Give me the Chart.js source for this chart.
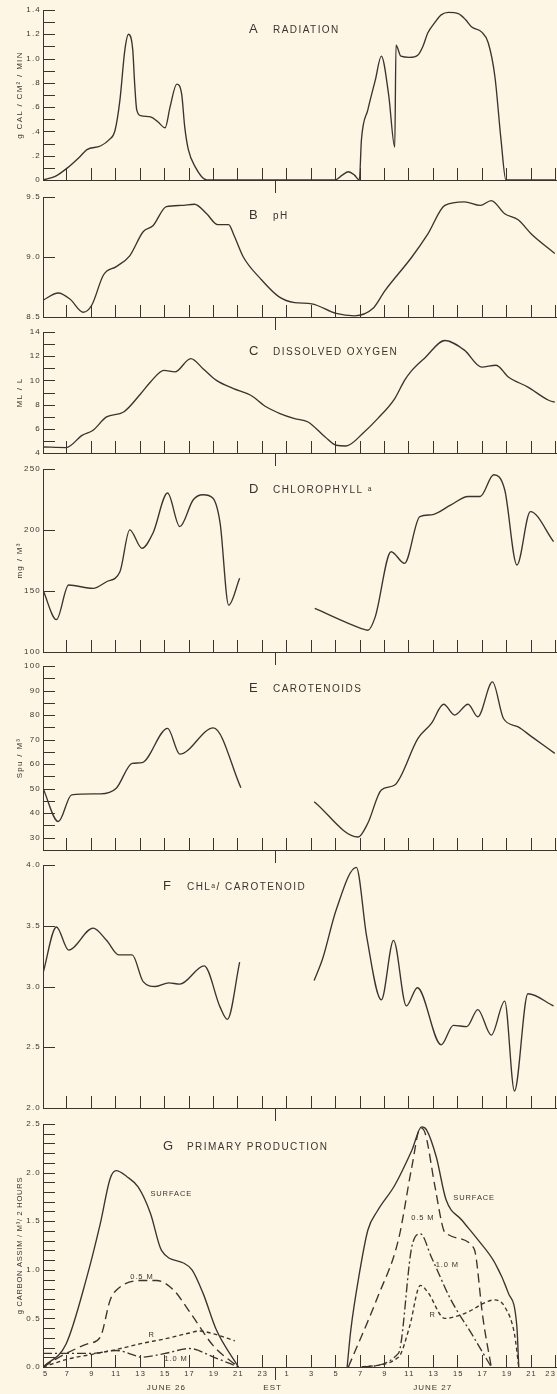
<!DOCTYPE html>
<html>
<head>
<meta charset="utf-8">
<script src="https://cdn.jsdelivr.net/npm/chart.js@4.4.1/dist/chart.umd.min.js"></script>
<style>
  html, body { margin: 0; padding: 0; background: #fdf6e4; }
  #page { position: relative; width: 557px; height: 1394px; overflow: hidden; background: #fdf6e4; }
  #page canvas { position: absolute; left: 0; }
</style>
</head>
<body>
<div id="page"></div>
<script>
// Clock runs continuously: 5..23 = June 26, 24 = midnight, 25..47 = June 27 (EST)
const clockTicks  = [5, 7, 9, 11, 13, 15, 17, 19, 21, 23, 25, 27, 29, 31, 33, 35, 37, 39, 41, 43, 45, 47];
const clockLabels = ['5', '7', '9', '11', '13', '15', '17', '19', '21', '23', '1', '3', '5', '7', '9', '11', '13', '15', '17', '19', '21', '23'];

// A  Radiation (g cal / cm2 / min)
const radHours  = [5, 6, 7, 8, 8.6, 9.7, 10.4, 10.9, 11.3, 11.7, 12.0, 12.35, 12.5, 12.67, 13.0, 13.8, 14.4, 15.0, 15.4, 15.95, 16.35, 16.6, 16.9, 17.45, 18.4, 23, 28.9, 29.5, 30.0, 30.5, 30.9, 31.07, 31.6, 32.2, 32.7, 33.3, 33.8, 33.9, 34.3, 35.0, 35.7, 36.1, 36.5, 37.1, 37.6, 38.2, 39.0, 39.6, 40.1, 40.9, 41.45, 42.0, 42.5, 42.9, 47];
const radValues = [0, 0.03, 0.10, 0.19, 0.25, 0.28, 0.33, 0.41, 0.66, 1.07, 1.20, 1.07, 0.80, 0.58, 0.53, 0.52, 0.48, 0.43, 0.60, 0.79, 0.71, 0.44, 0.25, 0.11, 0, 0, 0, 0.04, 0.068, 0.04, 0, 0.33, 0.58, 0.82, 1.02, 0.70, 0.27, 1.11, 1.02, 1.01, 1.03, 1.10, 1.21, 1.30, 1.36, 1.38, 1.37, 1.32, 1.26, 1.22, 1.13, 0.85, 0.33, 0, 0];
const radMajor  = [0, 0.2, 0.4, 0.6, 0.8, 1.0, 1.2, 1.4];
const radText   = ['0', '.2', '.4', '.6', '.8', '1.0', '1.2', '1.4'];

// B  pH
const phHours  = [5, 6.25, 7.2, 8.3, 9.0, 9.95, 11.0, 12.1, 13.2, 14.0, 15.1, 16.3, 17.4, 18.4, 19.3, 20.2, 20.6, 21.4, 22.8, 24.3, 25.6, 27.0, 29.0, 30.5, 32.0, 33.0, 35.2, 36.5, 37.9, 39.5, 40.8, 41.7, 42.8, 43.9, 45.0, 46.9];
const phValues = [8.64, 8.70, 8.65, 8.54, 8.60, 8.85, 8.92, 9.01, 9.21, 9.26, 9.42, 9.43, 9.44, 9.36, 9.27, 9.27, 9.19, 9.00, 8.82, 8.67, 8.62, 8.61, 8.53, 8.51, 8.57, 8.72, 9.00, 9.19, 9.43, 9.46, 9.43, 9.47, 9.36, 9.31, 9.19, 9.03];
const phMajor  = [8.5, 9.0, 9.5];
const phText   = ['8.5', '9.0', '9.5'];

// C  Dissolved oxygen (ml / l)
const doHours  = [5, 6.9, 8.2, 9.1, 10.2, 11.6, 13.0, 13.8, 14.9, 15.8, 17.1, 18.1, 19.2, 20.6, 22.0, 23.3, 24.4, 25.6, 26.7, 28.1, 29.0, 29.8, 31.3, 32.4, 33.8, 34.6, 35.2, 36.3, 37.9, 39.5, 40.9, 42.1, 43.1, 44.7, 46.4, 46.9];
const doValues = [4.5, 4.45, 5.46, 5.88, 6.98, 7.39, 8.9, 9.87, 10.83, 10.7, 11.8, 10.97, 10.0, 9.32, 8.77, 7.8, 7.26, 6.84, 6.56, 5.32, 4.64, 4.58, 5.74, 6.84, 8.5, 10.0, 10.83, 11.9, 13.3, 12.5, 11.1, 11.25, 10.28, 9.45, 8.36, 8.2];
const doMajor  = [4, 6, 8, 10, 12, 14];
const doText   = ['4', '6', '8', '10', '12', '14'];

// D  Chlorophyll a (mg / m3)
const chlHours26  = [5, 6.1, 7.1, 9.1, 10.2, 11.3, 12.1, 13.1, 14.0, 15.2, 16.2, 17.3, 18.1, 18.9, 19.5, 20.2, 21.1];
const chlValues26 = [150.7, 126.6, 154.9, 152.1, 157.6, 165.8, 200.1, 185, 197.4, 230.3, 202.8, 224.8, 228.9, 226.2, 205.6, 138.4, 160.4];
const chlHours27  = [27.25, 31.07, 31.6, 32.2, 33.5, 34.6, 35.85, 36.8, 38.4, 39.8, 40.8, 41.9, 42.8, 43.8, 44.9, 46.8];
const chlValues27 = [135.7, 119.2, 117.8, 128.8, 182.2, 172.7, 211, 212.4, 220.6, 227.5, 227.5, 245.3, 233, 171.3, 215.1, 190.5];
const chlMajor = [100, 150, 200, 250];
const chlText  = ['100', '150', '200', '250'];

// E  Carotenoids (Spu / m3)
const carHours26  = [5, 6.25, 7.35, 9.7, 11.0, 12.3, 13.1, 15.2, 16.2, 18.95, 21.2];
const carValues26 = [50.2, 36.6, 47.5, 47.9, 50.2, 60.3, 60.6, 74.6, 64.1, 74.8, 50.4];
const carHours27  = [27.2, 30.8, 31.6, 32.7, 33.8, 35.7, 36.8, 37.8, 38.7, 39.8, 40.6, 41.8, 42.7, 43.9, 45.0, 46.9];
const carValues27 = [44.7, 30.3, 36.0, 49.5, 51.5, 70.5, 76.6, 84.4, 80.0, 84.4, 79.3, 93.5, 78.6, 75.2, 71.2, 64.4];
const carMajor = [30, 40, 50, 60, 70, 80, 90, 100];
const carText  = ['30', '40', '50', '60', '70', '80', '90', '100'];

// F  Chlorophyll a / carotenoid ratio
const ratHours26  = [5, 6.1, 7.1, 9.1, 10.2, 11.2, 12.3, 13.2, 14.2, 15.3, 16.2, 18.2, 19.5, 20.1, 21.1];
const ratValues26 = [3.11, 3.49, 3.30, 3.48, 3.38, 3.26, 3.26, 3.04, 3.00, 3.03, 3.02, 3.17, 2.83, 2.73, 3.20];
const ratHours27  = [27.2, 27.9, 29.0, 30.65, 31.5, 32.7, 33.7, 34.75, 35.65, 37.6, 38.6, 39.7, 40.6, 41.7, 42.8, 43.6, 44.7, 46.8];
const ratValues27 = [3.05, 3.23, 3.63, 3.98, 3.41, 2.89, 3.38, 2.84, 2.99, 2.52, 2.68, 2.67, 2.81, 2.60, 2.88, 2.14, 2.94, 2.84];
const ratMajor = [2.0, 2.5, 3.0, 3.5, 4.0];
const ratText  = ['2.0', '2.5', '3.0', '3.5', '4.0'];

// G  Primary production (g carbon assimilated / m3 / 2 hours)
const surfHours26 = [5, 6.9, 8.6, 9.7, 10.5, 11.0, 11.85, 12.8, 13.8, 14.7, 16.5, 17.2, 18.1, 19.2, 21];
const surfVals26  = [0, 0.24, 0.93, 1.48, 1.94, 2.02, 1.96, 1.85, 1.58, 1.20, 1.07, 1.00, 0.76, 0.38, 0];
const halfHours26 = [5, 6.9, 8.7, 9.7, 10.5, 11.0, 13.0, 14.3, 15.7, 17.1, 19.0, 21];
const halfVals26  = [0, 0.14, 0.24, 0.31, 0.69, 0.79, 0.89, 0.89, 0.79, 0.55, 0.21, 0];
const oneHours26  = [5, 7, 9, 11, 12.5, 13, 15, 17, 19, 21];
const oneVals26   = [0.14, 0.14, 0.14, 0.17, 0.12, 0.10, 0.14, 0.19, 0.10, 0];
const rHours26    = [5, 7, 9, 11, 13, 15, 17, 17.8, 19, 20.7];
const rVals26     = [0, 0.08, 0.13, 0.18, 0.24, 0.29, 0.35, 0.37, 0.34, 0.27];

const surfHours27 = [29.9, 30.2, 30.9, 31.6, 32.4, 33.8, 35.2, 36.0, 36.4, 37.2, 38.0, 39.3, 40.6, 42.0, 43.1, 43.8, 43.95];
const surfVals27  = [0, 0.38, 0.96, 1.41, 1.61, 1.87, 2.23, 2.47, 2.44, 2.16, 1.72, 1.51, 1.31, 1.07, 0.76, 0.41, 0];
const halfHours27 = [30, 32.4, 34.1, 35.2, 35.9, 36.3, 37.1, 37.8, 38.2, 40.1, 40.4, 41.0, 41.7];
const halfVals27  = [0, 0.72, 1.31, 2.06, 2.46, 2.40, 1.85, 1.41, 1.36, 1.25, 1.17, 0.52, 0];
const oneHours27  = [31.1, 34.1, 35.2, 35.9, 36.8, 38.4, 40.1, 41.7];
const oneVals27   = [0, 0.14, 1.24, 1.37, 1.13, 0.69, 0.34, 0];
const rHours27    = [31.1, 34.1, 35.0, 35.9, 36.5, 37.9, 39.5, 42.0, 42.8, 43.6, 43.95];
const rVals27     = [0, 0.10, 0.41, 0.84, 0.77, 0.50, 0.55, 0.69, 0.62, 0.34, 0];
const ppMajor = [0, 0.5, 1.0, 1.5, 2.0, 2.5];
const ppText  = ['0.0', '0.5', '1.0', '1.5', '2.0', '2.5'];

const ink = '#3a3430';
const FONT = '"Liberation Sans", Arial, Helvetica, sans-serif';
Chart.defaults.font.family = FONT;
Chart.defaults.color = ink;

const pts = (xs, ys) => xs.map((h, i) => ({ x: h, y: ys[i] }));
const trace = (xs, ys, dash) => ({
  data: pts(xs, ys),
  borderColor: ink,
  borderWidth: 1.35,
  borderDash: dash || [],
  pointRadius: 0,
  fill: false,
  cubicInterpolationMode: 'monotone'
});

// Inward ticks, hour marks, midnight mark, headings, axis names and curve names
const decor = {
  id: 'decor',
  beforeDraw(chart) {
    // spaced-out lettering of the tick numbers
    chart.ctx.letterSpacing = '1.2px';
  },
  afterDraw(chart, _args, o) {
    const { ctx, chartArea: a, scales: { x, y } } = chart;
    ctx.save();
    ctx.strokeStyle = ink;
    ctx.lineWidth = 1;
    ctx.beginPath();
    for (const t of y.ticks) {
      if (Math.abs(t.value - y.min) < 1e-9) continue;
      const py = Math.round(y.getPixelForValue(t.value)) + 0.5;
      ctx.moveTo(a.left, py); ctx.lineTo(a.left + 12, py);
    }
    for (const h of clockTicks) {
      if (h === x.min) continue;
      const px = Math.round(x.getPixelForValue(h)) - 0.5;
      ctx.moveTo(px, a.bottom); ctx.lineTo(px, a.bottom - 12);
    }
    const m = Math.round(x.getPixelForValue(24)) + 0.5;
    ctx.moveTo(m, a.bottom); ctx.lineTo(m, a.bottom + 13);
    ctx.stroke();

    ctx.fillStyle = ink;
    ctx.textAlign = 'left';
    ctx.textBaseline = 'alphabetic';
    ctx.letterSpacing = '0px';
    ctx.font = `13px ${FONT}`;
    ctx.fillText(o.letter, o.lx, o.ly);
    ctx.font = `10px ${FONT}`;
    ctx.letterSpacing = '1.45px';
    ctx.fillText(o.title, o.tx, o.ly);

    if (o.yTitle) {
      ctx.save();
      ctx.translate(20, (a.top + a.bottom) / 2);
      ctx.rotate(-Math.PI / 2);
      ctx.textAlign = 'center';
      ctx.textBaseline = 'middle';
      ctx.font = `${o.yTitle.size}px ${FONT}`;
      ctx.letterSpacing = o.yTitle.spacing + 'px';
      ctx.fillText(o.yTitle.text, 0, 0);
      ctx.restore();
    }

    ctx.font = `7.5px ${FONT}`;
    ctx.letterSpacing = '0.9px';
    ctx.textAlign = 'center';
    ctx.textBaseline = 'middle';
    for (const n of (o.notes || [])) ctx.fillText(n.text, x.getPixelForValue(n.h), y.getPixelForValue(n.v));
    ctx.font = `8px ${FONT}`;
    ctx.letterSpacing = '1px';
    for (const n of (o.under || [])) ctx.fillText(n.text, x.getPixelForValue(n.h), a.bottom + n.dy);
    ctx.restore();
  }
};

const page = document.getElementById('page');

function panel(p) {
  const canvasTop = p.top - 9;
  const axisH = p.clock ? 14 : 0;
  const canvasBottom = p.bottom + 13 + axisH + (p.clock ? 0 : 2);
  const c = document.createElement('canvas');
  c.width = 557;
  c.height = canvasBottom - canvasTop;
  c.style.top = canvasTop + 'px';
  page.appendChild(c);
  const head = Object.assign({}, p.head, { ly: p.head.ly - canvasTop, yTitle: p.yTitle });
  new Chart(c, {
    type: 'line',
    data: { datasets: p.datasets },
    options: {
      responsive: false,
      animation: false,
      events: [],
      layout: { padding: { top: p.top - canvasTop, bottom: canvasBottom - p.bottom - axisH, left: 0, right: 1 } },
      plugins: { legend: { display: false }, tooltip: { enabled: false }, decor: head },
      scales: {
        x: {
          type: 'linear', min: 5, max: 47,
          afterBuildTicks: s => { s.ticks = clockTicks.map(v => ({ value: v })); },
          afterFit: s => { s.height = axisH; s.paddingLeft = 0; s.paddingRight = 0; },
          grid: { display: false, drawTicks: false },
          border: { display: true, color: ink, width: 1 },
          ticks: {
            display: !!p.clock, autoSkip: false, maxRotation: 0, padding: 2, align: 'inner',
            color: ink, font: { size: 7.5 },
            callback: (v, i) => clockLabels[i]
          }
        },
        y: {
          min: p.min, max: p.max,
          afterBuildTicks: s => {
            const n = Math.round((p.max - p.min) / p.step);
            const t = [];
            for (let i = 0; i <= n; i++) t.push({ value: +(p.min + i * p.step).toFixed(4) });
            s.ticks = t;
          },
          afterFit: s => { s.width = 43; },
          grid: { display: false, drawTicks: false },
          border: { display: true, color: ink, width: 1 },
          ticks: {
            autoSkip: false, padding: 2, color: ink, font: { size: 8 },
            callback: v => {
              const i = p.major.findIndex(m => Math.abs(m - v) < 1e-6);
              return i < 0 ? '' : p.text[i];
            }
          }
        }
      }
    },
    plugins: [decor]
  });
}

panel({
  top: 10, bottom: 180, min: 0, max: 1.4, step: 0.1, major: radMajor, text: radText,
  yTitle: { text: 'g CAL / CM² / MIN', size: 8, spacing: 1.3 },
  head: { letter: 'A', title: 'RADIATION', lx: 249, tx: 273, ly: 33 },
  datasets: [trace(radHours, radValues)]
});
panel({
  top: 197, bottom: 317, min: 8.5, max: 9.5, step: 0.5, major: phMajor, text: phText,
  head: { letter: 'B', title: 'pH', lx: 249, tx: 273, ly: 219 },
  datasets: [trace(phHours, phValues)]
});
panel({
  top: 332, bottom: 453, min: 4, max: 14, step: 1, major: doMajor, text: doText,
  yTitle: { text: 'ML / L', size: 8, spacing: 1.3 },
  head: { letter: 'C', title: 'DISSOLVED OXYGEN', lx: 249, tx: 273, ly: 355 },
  datasets: [trace(doHours, doValues)]
});
panel({
  top: 469, bottom: 652, min: 100, max: 250, step: 50, major: chlMajor, text: chlText,
  yTitle: { text: 'mg / M³', size: 8, spacing: 1.3 },
  head: { letter: 'D', title: 'CHLOROPHYLL ᵃ', lx: 249, tx: 273, ly: 493 },
  datasets: [trace(chlHours26, chlValues26), trace(chlHours27, chlValues27)]
});
panel({
  top: 666, bottom: 850, min: 25, max: 100, step: 5, major: carMajor, text: carText,
  yTitle: { text: 'Spu / M³', size: 8, spacing: 1.3 },
  head: { letter: 'E', title: 'CAROTENOIDS', lx: 249, tx: 273, ly: 692 },
  datasets: [trace(carHours26, carValues26), trace(carHours27, carValues27)]
});
panel({
  top: 865, bottom: 1108, min: 2.0, max: 4.0, step: 0.5, major: ratMajor, text: ratText,
  head: { letter: 'F', title: 'CHLᵃ/ CAROTENOID', lx: 163, tx: 187, ly: 890 },
  datasets: [trace(ratHours26, ratValues26), trace(ratHours27, ratValues27)]
});
panel({
  top: 1124, bottom: 1367, min: 0, max: 2.5, step: 0.1, major: ppMajor, text: ppText,
  yTitle: { text: 'g CARBON ASSIM / M³/ 2 HOURS', size: 7.5, spacing: 0.75 }, clock: true,
  head: {
    letter: 'G', title: 'PRIMARY PRODUCTION', lx: 163, tx: 187, ly: 1150,
    notes: [
      { text: 'SURFACE', h: 15.5, v: 1.78 },
      { text: '0.5 M', h: 13.1, v: 0.93 },
      { text: 'R', h: 13.9, v: 0.33 },
      { text: '1.0 M', h: 15.9, v: 0.085 },
      { text: 'SURFACE', h: 40.3, v: 1.74 },
      { text: '0.5 M', h: 36.1, v: 1.53 },
      { text: '1.0 M', h: 38.1, v: 1.05 },
      { text: 'R', h: 36.9, v: 0.54 }
    ],
    under: [
      { text: 'JUNE 26', h: 15.1, dy: 21 },
      { text: 'EST', h: 23.8, dy: 21 },
      { text: 'JUNE 27', h: 36.9, dy: 21 }
    ]
  },
  datasets: [
    trace(surfHours26, surfVals26), trace(halfHours26, halfVals26, [9, 5]),
    trace(oneHours26, oneVals26, [9, 3, 2, 3]), trace(rHours26, rVals26, [4, 3]),
    trace(surfHours27, surfVals27), trace(halfHours27, halfVals27, [9, 5]),
    trace(oneHours27, oneVals27, [9, 3, 2, 3]), trace(rHours27, rVals27, [4, 3])
  ]
});
</script>
</body>
</html>
